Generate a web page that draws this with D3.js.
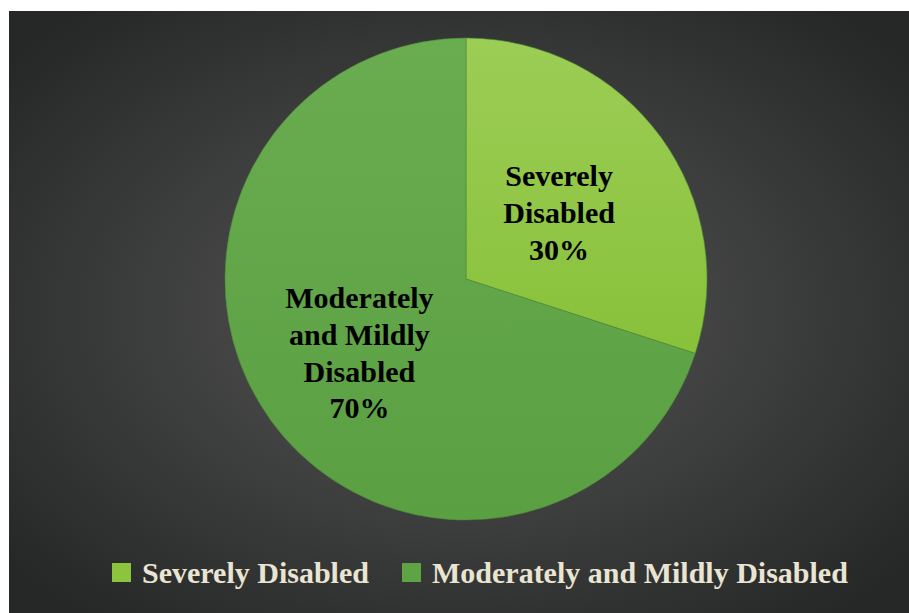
<!DOCTYPE html>
<html>
<head>
	<title>Disability pie</title>
	<script src="https://d3js.org/d3.v7.min.js"></script>
	<style>
		body { margin: 0; background: #fff; }
	</style>
</head>
<body>
<section id="container"></section>
<script>
//Data
var categories = ["Severely Disabled", "Moderately and Mildly Disabled"];
var values = [30, 70];
var labelLines = [["Severely", "Disabled", "30%"], ["Moderately", "and Mildly", "Disabled", "70%"]];
var colors = ["#8cc43e", "#5ea444"];

var width = 909, height = 613;
var serif = "'Liberation Serif', 'Times New Roman', serif";

var svg = d3.select("#container")
	.append("svg")
	.attr("width", width)
	.attr("height", height);

var defs = svg.append("defs");

//Background radial gradient
var bg = defs.append("radialGradient")
	.attr("id", "bg")
	.attr("cx", "50%").attr("cy", "50%").attr("r", "65%");
bg.append("stop").attr("offset", "0%").attr("stop-color", "#575757");
bg.append("stop").attr("offset", "100%").attr("stop-color", "#262727");

//Slight shading on slices
var sg = defs.append("linearGradient").attr("id", "g0")
	.attr("x1", "0").attr("y1", "0").attr("x2", "0").attr("y2", "1");
sg.append("stop").attr("offset", "0%").attr("stop-color", "#9ccd55");
sg.append("stop").attr("offset", "100%").attr("stop-color", "#88c13a");
var mg = defs.append("linearGradient").attr("id", "g1")
	.attr("x1", "0").attr("y1", "0").attr("x2", "0").attr("y2", "1");
mg.append("stop").attr("offset", "0%").attr("stop-color", "#6aad51");
mg.append("stop").attr("offset", "100%").attr("stop-color", "#5a9f42");

svg.append("rect")
	.attr("x", 9).attr("y", 11)
	.attr("width", width - 9).attr("height", height - 11)
	.attr("fill", "url(#bg)");

var cx = 466, cy = 279, radius = 241;

var pie = d3.pie().sort(null).value(function(d) { return d; });
var arc = d3.arc().innerRadius(0).outerRadius(radius);

var g = svg.append("g").attr("transform", "translate(" + cx + "," + cy + ")");

var arcs = pie(values);

g.selectAll("path")
	.data(arcs)
	.enter()
	.append("path")
	.attr("d", arc)
	.attr("fill", function(d, i) { return "url(#g" + i + ")"; })
	.attr("stroke", "#4f8c38")
	.attr("stroke-width", 0.6);

//Labels inside slices
var labelArc = d3.arc().innerRadius(radius * 0.58).outerRadius(radius * 0.58);
var labelOffsets = [[-20, 17], [6.5, -7]];
var lineH = 36.7;

arcs.forEach(function(d, i) {
	var c = labelArc.centroid(d);
	var lines = labelLines[i];
	var t = g.append("text")
		.attr("text-anchor", "middle")
		.attr("font-family", serif)
		.attr("font-weight", "bold")
		.attr("font-size", 30)
		.attr("fill", "#000");
	lines.forEach(function(line, j) {
		t.append("tspan")
			.attr("x", c[0] + labelOffsets[i][0])
			.attr("y", c[1] + labelOffsets[i][1] + (j - (lines.length - 1) / 2) * lineH + 9)
			.text(line);
	});
});

//Legend
var legendX = [112, 402];
var legend = svg.append("g");
categories.forEach(function(name, i) {
	legend.append("rect")
		.attr("x", legendX[i]).attr("y", 563)
		.attr("width", 19).attr("height", 19)
		.attr("fill", colors[i]);
	legend.append("text")
		.attr("x", legendX[i] + 30)
		.attr("y", 583)
		.attr("font-family", serif)
		.attr("font-weight", "bold")
		.attr("font-size", 30)
		.attr("fill", "#e9e5d2")
		.text(name);
});
</script>
</body>
</html>
